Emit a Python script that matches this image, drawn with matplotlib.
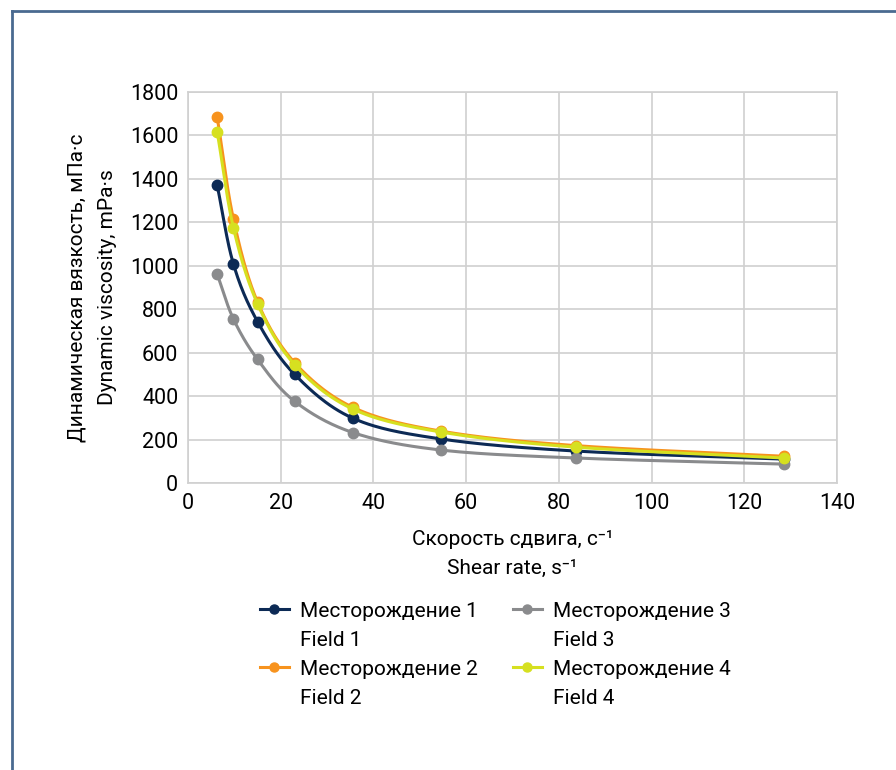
import numpy as np
import matplotlib.pyplot as plt
from matplotlib.lines import Line2D

plt.rcParams['font.family'] = ['Roboto', 'DejaVu Sans']

shear_rate = [6.3, 9.8, 15.0, 23.0, 35.6, 54.5, 83.7, 128.6]
field1 = [1370, 1008, 743, 500, 298, 203, 147, 110]
field2 = [1684, 1215, 833, 554, 348, 239, 172, 123]
field3 = [961, 755, 569, 376, 232, 152, 115, 87]
field4 = [1617, 1175, 825, 545, 340, 235, 165, 115]

names_ru = ['Месторождение 1', 'Месторождение 2', 'Месторождение 3', 'Месторождение 4']
names_en = ['Field 1', 'Field 2', 'Field 3', 'Field 4']
colors = ['#0c2a55', '#f7931e', '#8a8b8d', '#d6e020']


def smooth(x, y, n=30):
    # catmull-rom like Excel smoothed line
    x = np.asarray(x, float)
    y = np.asarray(y, float)
    px = np.concatenate([[2*x[0]-x[1]], x, [2*x[-1]-x[-2]]])
    py = np.concatenate([[2*y[0]-y[1]], y, [2*y[-1]-y[-2]]])
    xs, ys = [], []
    t = np.linspace(0, 1, n)
    for i in range(1, len(px)-2):
        p0, p1, p2, p3 = (np.array([px[k], py[k]]) for k in range(i-1, i+3))
        b1 = p1 + (p2 - p0) / 6
        b2 = p2 - (p3 - p1) / 6
        pts = ((1-t)**3)[:, None]*p1 + (3*(1-t)**2*t)[:, None]*b1 \
            + (3*(1-t)*t**2)[:, None]*b2 + (t**3)[:, None]*p2
        xs.append(pts[:, 0])
        ys.append(pts[:, 1])
    return np.concatenate(xs), np.concatenate(ys)


fig = plt.figure(figsize=(8.96, 7.7), dpi=100)
ax = fig.add_axes([188/896, 1-483/770, (837-188)/896, (483-92)/770])

series = [field1, field2, field3, field4]
order = [2, 0, 3, 1]  # gray, navy, yellow, orange on top
for i in order:
    sx, sy = smooth(shear_rate, series[i])
    ax.plot(sx, sy, color=colors[i], lw=2.2, zorder=3+i)
    ax.plot(shear_rate, series[i], 'o', color=colors[i], ms=7.5, zorder=3+i)

ax.set_xlim(0, 140)
ax.set_ylim(0, 1800)
ax.set_xticks(range(0, 141, 20))
ax.set_yticks(range(0, 1801, 200))
ax.grid(True, color='#d0d0d0', lw=1.2)
ax.set_axisbelow(True)
for s in ax.spines.values():
    s.set_color('#d0d0d0')
    s.set_linewidth(1.2)
ax.tick_params(length=0, labelsize=15.5, pad=7)

ax.set_xlabel('Скорость сдвига, с⁻¹\nShear rate, s⁻¹', fontsize=15, labelpad=12,
              linespacing=1.6)
ax.set_ylabel('Динамическая вязкость, мПа·с\nDynamic viscosity, mPa·s', fontsize=15,
              labelpad=9, linespacing=1.8)

# legend: each field as two rows (russian name with handle, english name without)
handles, texts = [], []
for c, ru, en in zip(colors, names_ru, names_en):
    handles.append(Line2D([], [], color=c, lw=2.2, marker='o', ms=6.5))
    texts.append(ru)
    handles.append(Line2D([], [], color='none'))
    texts.append(en)
fig.legend(handles, texts, loc='upper left', bbox_to_anchor=(241/896, 1-583/770),
           ncol=2, frameon=False, fontsize=15, handlelength=1.4, columnspacing=1.65,
           labelspacing=0.48, handletextpad=0.55)

# frame around figure (top and left edges)
fig.add_artist(Line2D([12/896, 1], [1-11/770, 1-11/770], color='#4a6a90', lw=2))
fig.add_artist(Line2D([12/896, 12/896], [0, 1-11/770], color='#4a6a90', lw=2))

fig.savefig('out.png', dpi=100)
